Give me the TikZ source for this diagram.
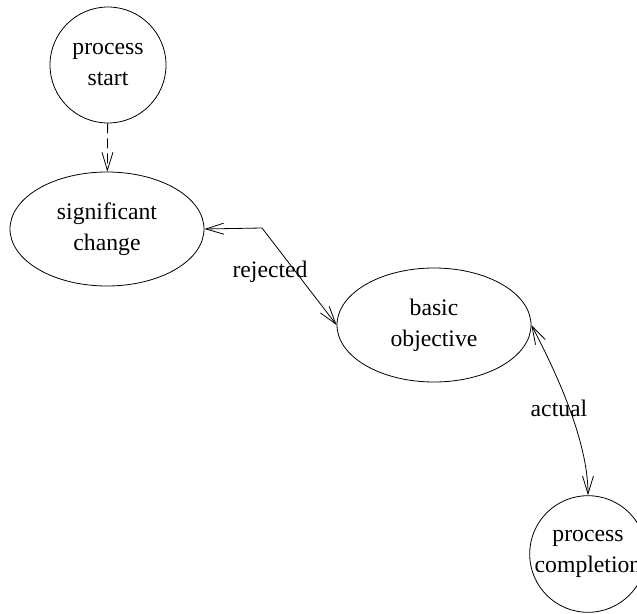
\documentclass[tikz,border=0pt]{standalone}
\usepackage{fontspec}
\setmainfont{Liberation Serif}
\usetikzlibrary{shapes.geometric, arrows.meta}
\newcommand\labelFont{\fontsize{23.7}{31}\selectfont}
\newcommand\tipLen{18pt}
\newcommand\tipWid{11pt}

\begin{document}
\begin{tikzpicture}[x=1pt, y=-1pt, line width=0.8pt,
    state/.style={circle, draw, minimum size=116pt, inner sep=0pt, align=center, font=\labelFont},
    goal/.style={ellipse, draw, minimum width=194pt, minimum height=114pt, inner sep=0pt, align=center, font=\labelFont},
    tag/.style={font=\labelFont, inner sep=0pt},
    barb/.tip={Straight Barb[length=\tipLen, width=\tipWid]},
    link/.style={barb-barb}]
        \useasboundingbox (0,0) rectangle (637,613);

        \node[state] (start) at (108,65) {process\\start};
        \node[goal] (change) at (107,229) {significant\\change};
        \node[goal] (objective) at (434,325) {basic\\objective};
        \node[state] (finish) at (588,554) {process\\completion};

        \draw[-barb, dash pattern=on 10pt off 5pt] (start) -- (change);

        \coordinate (bend) at (262,228);
        \draw[link] (change.east) -- (bend) -- (objective.west);
        \node[tag] (rejected) at (270,272) {rejected};

        \draw[link] (objective.east) .. controls (555,370) and (588,440) .. (finish.north);
        \node[tag] (actual) at (559,408) {actual};
    \end{tikzpicture}
\end{document}
